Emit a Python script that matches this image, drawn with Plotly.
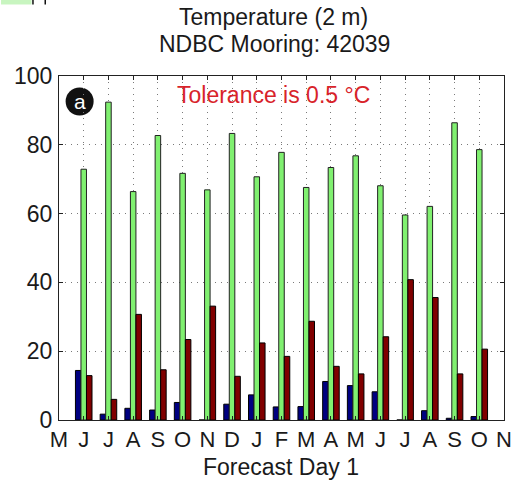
import plotly.graph_objects as go

months = ["M", "J", "J", "A", "S", "O", "N", "D", "J", "F", "M", "A", "M", "J", "J", "A", "S", "O", "N"]
bar_pos = list(range(1, 18))

blue_vals = [14.4, 1.7, 3.4, 2.9, 5.1, 0.0, 4.6, 7.3, 3.8, 3.9, 11.2, 10.0, 8.2, 0.0, 2.7, 0.5, 1.0]
green_vals = [72.9, 92.4, 66.4, 82.7, 71.7, 66.9, 83.3, 70.7, 77.8, 67.6, 73.4, 76.8, 68.1, 59.6, 62.1, 86.4, 78.6]
red_vals = [12.9, 6.0, 30.7, 14.6, 23.4, 33.1, 12.7, 22.4, 18.5, 28.7, 15.6, 13.4, 24.2, 40.8, 35.6, 13.4, 20.6]

FONT = "Liberation Sans, Arial, Helvetica, sans-serif"
TXT = "#1a1a1a"

# plot area in pixels
L, R, T, B = 59, 512, 76, 420
W, H = 520, 484

def px(x):
    return (x - L) / (R - L)

def py(y):
    return (B - y) / (B - T)

fig = go.Figure()
for vals, col, lc in [(blue_vals, "#000080", "#000000"),
                      (green_vals, "#80f070", "#222222"),
                      (red_vals, "#800000", "#000000")]:
    fig.add_trace(go.Bar(x=bar_pos, y=vals, marker=dict(color=col, line=dict(color=lc, width=1)),
                         showlegend=False))

fig.update_layout(
    width=W, height=H,
    margin=dict(l=L, r=W - R, t=T, b=H - B, pad=0),
    paper_bgcolor="white", plot_bgcolor="white",
    barmode="group", bargap=0.33, bargroupgap=0,
    font=dict(family=FONT, size=23, color=TXT),
)

GRID = dict(showgrid=True, gridcolor="#7a7a7a", griddash="1px,5px", gridwidth=1)
fig.update_xaxes(
    range=[0, 18], tickmode="array", tickvals=list(range(19)), ticktext=months,
    showline=True, linecolor="#222", linewidth=1, mirror="ticks",
    ticks="inside", ticklen=4, tickcolor="#222", ticklabeloverflow="allow",
    tickfont=dict(size=22, color=TXT), zeroline=False, **GRID,
)
fig.update_yaxes(
    range=[0, 100], tickmode="array", tickvals=[0, 20, 40, 60, 80, 100],
    showline=True, linecolor="#222", linewidth=1, mirror="ticks",
    ticks="inside", ticklen=4, tickcolor="#222", ticklabelstandoff=1,
    ticklabeloverflow="allow",
    tickfont=dict(size=23, color=TXT), zeroline=False, **GRID,
)

annos = [
    dict(text="Temperature (2 m)", x=px(277), y=py(17)),
    dict(text="NDBC Mooring: 42039", x=px(278), y=py(44)),
    dict(text="Forecast Day 1", x=px(285), y=py(467)),
    dict(text="Tolerance is 0.5 °C", x=px(277), y=py(95), color="#d8232a"),
    dict(text="a", x=px(80), y=py(101), color="white", size=21),
]
for a in annos:
    fig.add_annotation(text=a["text"], x=a["x"], y=a["y"], xref="paper", yref="paper",
                       xanchor="center", yanchor="middle", showarrow=False,
                       font=dict(family=FONT, size=a.get("size", 23), color=a.get("color", TXT)))

# black circle label
fig.add_shape(type="circle", xref="paper", yref="paper", xsizemode="pixel", ysizemode="pixel",
              xanchor=px(80), yanchor=py(101.5), x0=-14, x1=14, y0=-14, y1=14,
              fillcolor="#111111", line=dict(width=0), layer="below")

# small artifact in top-left corner
fig.add_shape(type="rect", xref="paper", yref="paper", x0=px(0), x1=px(31), y0=py(4.5), y1=py(0),
              fillcolor="#c8f5c0", line=dict(width=0))
fig.add_shape(type="line", xref="paper", yref="paper", x0=px(32.5), x1=px(32.5), y0=py(4.5), y1=py(0),
              line=dict(color="#111", width=1.5))
fig.add_shape(type="line", xref="paper", yref="paper", x0=px(45), x1=px(45), y0=py(4.5), y1=py(0),
              line=dict(color="#111", width=1.5))

fig.write_html("out.html")
